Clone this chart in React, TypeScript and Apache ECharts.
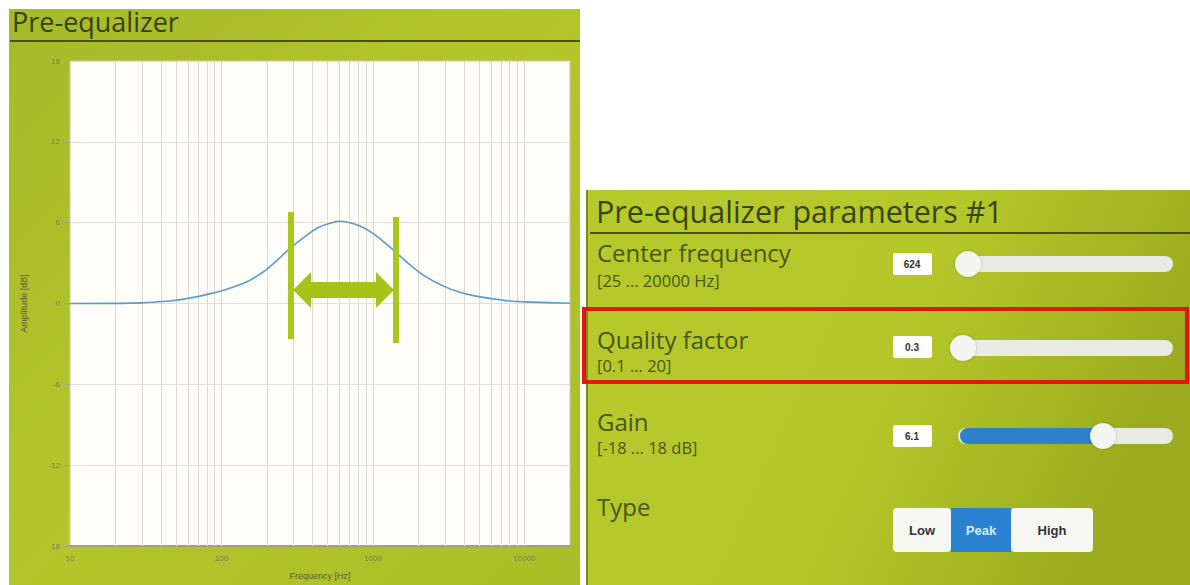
import { useEffect, useRef } from "react";
import * as echarts from "echarts";

// Frequency response
const freqHz = [10, 20, 30, 45, 58, 86, 129, 175, 225, 274, 354, 430, 520, 608, 700, 822, 1000, 1291, 1550, 1854, 2300, 2911, 3700, 4786, 7180, 10000, 20000];
const gainDb = [0, 0.01, 0.05, 0.18, 0.35, 0.75, 1.35, 2.1, 3.05, 3.95, 4.95, 5.6, 5.95, 6.1, 6.0, 5.75, 5.2, 4.2, 3.4, 2.65, 1.9, 1.3, 0.85, 0.55, 0.25, 0.12, 0.02];

// Vertical grid lines (log grid)
const gridFreqs = [20, 30, 40, 50, 60, 70, 80, 90, 100, 200, 300, 400, 500, 600, 700, 800, 900, 1000, 2000, 3000, 4000, 5000, 6000, 7000, 8000, 9000, 10000];

const xMin = 10;
const xMax = 20000;
const yMin = -18;
const yMax = 18;
const yStep = 6;

// Parameter panel content
const paramLabels = ["Center frequency", "Quality factor", "Gain", "Type"];
const paramRanges = ["[25 ... 20000 Hz]", "[0.1 ... 20]", "[-18 ... 18 dB]"];
const paramValues = ["624", "0.3", "6.1"];
const typeButtons = ["Low", "Peak", "High"];

export default function App() {
  const ref = useRef<HTMLDivElement>(null);
  useEffect(() => {
    if (!ref.current) return;
    const chart = echarts.init(ref.current, null, { renderer: "svg" });
    const labelColor = "#4b5619";
    const titleColor = "#39430c";
    const font = "'Open Sans', 'DejaVu Sans', sans-serif";
    const rowY = [240, 327, 409, 494];
    const rangeY = [272, 357, 439];
    const boxY = [253, 336, 425];
    const trackY = [256, 340, 428];
    const thumbX = [968, 963, 1103];

    const graphics: any[] = [
      // left panel
      {
        type: "rect", z: -10, silent: true,
        shape: { x: 9, y: 9, width: 571, height: 580 },
        style: {
          fill: new echarts.graphic.LinearGradient(0, 0, 1, 1, [
            { offset: 0, color: "#a6b92a" },
            { offset: 0.5, color: "#b3c72b" },
            { offset: 1, color: "#a9bd26" },
          ]),
        },
      },
      {
        type: "text", z: 10,
        style: { text: "Pre-equalizer", x: 12, y: 8, font: `27px ${font}`, fill: titleColor },
      },
      {
        type: "line", z: 10,
        shape: { x1: 10, y1: 41, x2: 580, y2: 41 },
        style: { stroke: "#47520f", lineWidth: 2 },
      },
      // right panel
      {
        type: "rect", z: -10, silent: true,
        shape: { x: 586, y: 190, width: 604, height: 400 },
        style: {
          fill: new echarts.graphic.LinearGradient(0, 0, 1, 0.3, [
            { offset: 0, color: "#b6ca2c" },
            { offset: 0.6, color: "#b3c72a" },
            { offset: 1, color: "#9bad1e" },
          ]),
        },
      },
      {
        type: "line", z: 10,
        shape: { x1: 587, y1: 190, x2: 587, y2: 585 },
        style: { stroke: "#7d8a1c", lineWidth: 2 },
      },
      {
        type: "text", z: 10,
        style: { text: "Pre-equalizer parameters #1", x: 596, y: 195, font: `30.5px ${font}`, fill: titleColor },
      },
      {
        type: "line", z: 10,
        shape: { x1: 590, y1: 233, x2: 1190, y2: 233 },
        style: { stroke: "#47520f", lineWidth: 2 },
      },
      // red highlight
      {
        type: "rect", z: 20,
        shape: { x: 584, y: 309, width: 603, height: 73 },
        style: { fill: "none", stroke: "#e3170f", lineWidth: 4 },
      },
      // annotation bars and arrow on chart
      {
        type: "rect", z: 50,
        shape: { x: 288, y: 212, width: 6, height: 127 },
        style: { fill: "#a9c71e" },
      },
      {
        type: "rect", z: 50,
        shape: { x: 393, y: 217, width: 6, height: 126 },
        style: { fill: "#a9c71e" },
      },
      {
        type: "polygon", z: 50,
        shape: {
          points: [
            [293, 290], [311, 272], [311, 282], [376, 282], [376, 272], [394, 290],
            [376, 308], [376, 298], [311, 298], [311, 308],
          ],
        },
        style: { fill: "#a5c41a" },
      },
    ];

    paramLabels.forEach((t, i) => {
      graphics.push({
        type: "text", z: 10,
        style: { text: t, x: 597, y: rowY[i], font: `24px ${font}`, fill: labelColor },
      });
    });
    paramRanges.forEach((t, i) => {
      graphics.push({
        type: "text", z: 10,
        style: { text: t, x: 597, y: rangeY[i], font: `16.5px ${font}`, fill: labelColor },
      });
    });
    paramValues.forEach((t, i) => {
      graphics.push({
        type: "rect", z: 10,
        shape: { x: 893, y: boxY[i], width: 39, height: 22, r: 2 },
        style: { fill: "#ffffff" },
      });
      graphics.push({
        type: "text", z: 11,
        style: {
          text: t, x: 912, y: boxY[i] + 11, align: "center", verticalAlign: "middle",
          font: `bold 10px 'Liberation Sans', Arial, sans-serif`, fill: "#333333",
        },
      });
      graphics.push({
        type: "rect", z: 10,
        shape: { x: 958, y: trackY[i], width: 215, height: 16, r: 8 },
        style: { fill: "#e9eae3" },
      });
      if (i === 2) {
        graphics.push({
          type: "rect", z: 11,
          shape: { x: 960, y: trackY[i], width: thumbX[i] - 960, height: 16, r: 8 },
          style: { fill: "#2f7fcb" },
        });
      }
      graphics.push({
        type: "circle", z: 12,
        shape: { cx: thumbX[i], cy: trackY[i] + 8, r: 13 },
        style: { fill: "#f4f4f0", shadowBlur: 3, shadowColor: "rgba(0,0,0,0.2)" },
      });
    });
    // Type buttons
    const btnX = [893, 951, 1011];
    const btnW = [58, 60, 82];
    typeButtons.forEach((t, i) => {
      const active = t === "Peak";
      graphics.push({
        type: "rect", z: 10,
        shape: { x: btnX[i], y: 508, width: btnW[i], height: 44, r: i === 1 ? 0 : 4 },
        style: { fill: active ? "#2a82d0" : "#f6f6f2" },
      });
      graphics.push({
        type: "text", z: 11,
        style: {
          text: t, x: btnX[i] + btnW[i] / 2, y: 530, align: "center", verticalAlign: "middle",
          font: `bold 13px 'Liberation Sans', Arial, sans-serif`, fill: active ? "#dbe9f7" : "#333333",
        },
      });
    });

    chart.setOption({
      animation: false,
      backgroundColor: "#ffffff",
      grid: {
        left: 70, right: 620, top: 61, bottom: 32,
        show: true, backgroundColor: "#fefdf8", borderColor: "#c9cbb4", borderWidth: 1,
      },
      xAxis: {
        type: "log", logBase: 10, min: xMin, max: xMax,
        name: "Frequency [Hz]", nameLocation: "middle", nameGap: 25,
        nameTextStyle: { color: "#5a6030", fontSize: 9 },
        axisLine: { show: true, onZero: false, lineStyle: { color: "#9ea080", width: 2 } },
        axisTick: { show: false },
        splitLine: { show: false },
        axisLabel: {
          color: "#7a7f55", fontSize: 8, showMaxLabel: false,
          formatter: (v: number) => String(Math.round(v)),
        },
      },
      yAxis: {
        type: "value", min: yMin, max: yMax, interval: yStep,
        name: "Amplitude [dB]", nameLocation: "middle", nameGap: 42,
        nameTextStyle: { color: "#5a6030", fontSize: 9 },
        axisLine: { show: false },
        axisTick: { show: true, length: 6, lineStyle: { color: "#a3a68a" } },
        splitLine: { show: true, lineStyle: { color: "#e2e2d8", width: 1 } },
        axisLabel: { color: "#7a7f55", fontSize: 8, margin: 10 },
      },
      graphic: graphics,
      series: [
        {
          type: "line",
          data: freqHz.map((f, i) => [f, gainDb[i]]),
          smooth: 0.5,
          showSymbol: false,
          lineStyle: { color: "#5a9bd3", width: 1.6 },
          z: 5,
          markLine: {
            silent: true, symbol: "none", label: { show: false },
            lineStyle: { color: "#dedcd2", width: 1, type: "solid" },
            data: gridFreqs.map((f) => ({ xAxis: f })),
            z: 1,
          },
        },
      ],
    });
    return () => chart.dispose();
  }, []);
  return (
    <div
      ref={ref}
      style={{ position: "absolute", left: 0, top: 0, width: 1190, height: 585 }}
    />
  );
}
